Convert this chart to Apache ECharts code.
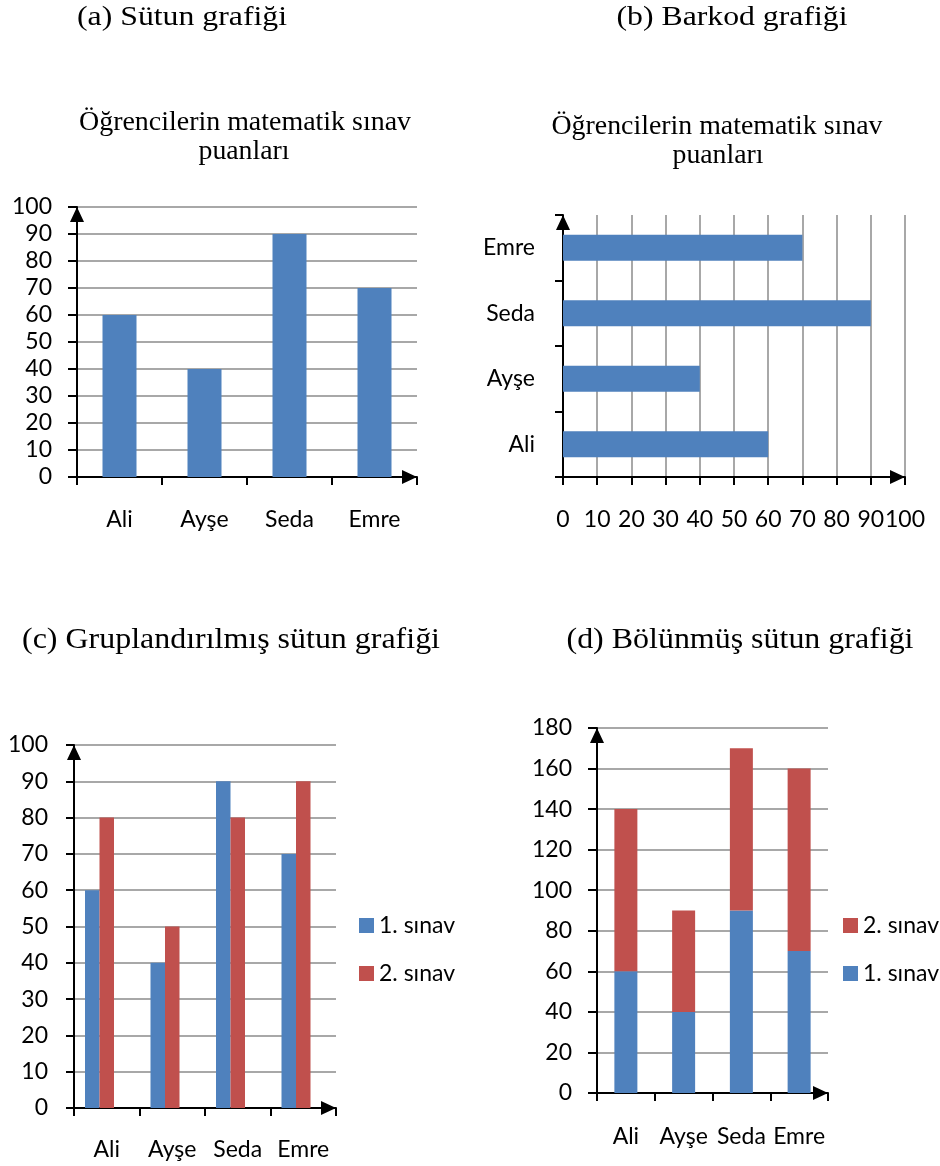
<!DOCTYPE html>
<html>
<head>
<meta charset="utf-8">
<script src="https://cdn.jsdelivr.net/npm/echarts@6/dist/echarts.min.js"></script>
<style>
  html, body { margin: 0; padding: 0; background: #fff; }
  #chart { width: 940px; height: 1166px; }
</style>
</head>
<body>
<div id="chart"></div>
<script>
// Students and their two maths exam scores
const students = ['Ali', 'Ayşe', 'Seda', 'Emre'];
const exam1 = [60, 40, 90, 70];
const exam2 = [80, 50, 80, 90];
const examNames = ['1. sınav', '2. sınav'];

// Headings and the shared chart title
const headings = [
  '(a) Sütun grafiği',
  '(b) Barkod grafiği',
  '(c) Gruplandırılmış sütun grafiği',
  '(d) Bölünmüş sütun grafiği'
];
const titleLines = ['Öğrencilerin matematik sınav', 'puanları'];

const BLUE = '#4F81BD';
const RED = '#C0504D';
const GRID_GRAY = '#a8a8a8';
const LABEL_FONT = 'Lato';
const LABEL_SIZE = 23;
const SERIF = '"Liberation Serif", "Times New Roman", serif';

// Measure text so each serif heading can be stretched to its box width
const measureCtx = document.createElement('canvas').getContext('2d');
function serifText(text, size, cx, cy, boxWidth) {
  const font = size + 'px ' + SERIF;
  measureCtx.font = font;
  const w = measureCtx.measureText(text).width;
  return {
    type: 'text',
    x: cx,
    y: cy,
    scaleX: boxWidth / w,
    style: { text: text, font: font, fill: '#000', align: 'center', verticalAlign: 'middle' },
    silent: true
  };
}

const arrowLine = {
  show: true,
  onZero: true,
  symbol: ['none', 'triangle'],
  symbolSize: [14, 15],
  symbolOffset: [0, -7.5],
  lineStyle: { color: '#000', width: 2 }
};
const tick = (len) => ({ show: true, inside: false, length: len, lineStyle: { color: '#000', width: 2 } });
const gridLines = { show: true, lineStyle: { color: GRID_GRAY, width: 2 } };
const label = (margin) => ({
  margin: margin, color: '#000', fontFamily: LABEL_FONT, fontSize: LABEL_SIZE,
  interval: 0, hideOverlap: false
});

const option = {
  animation: false,
  backgroundColor: '#fff',
  graphic: [
    serifText(headings[0], 28, 182, 18, 210),
    serifText(headings[1], 28, 732, 18, 231),
    serifText(titleLines[0], 28, 245, 123, 332),
    serifText(titleLines[1], 28, 244, 152, 91),
    serifText(titleLines[0], 28, 717, 127, 331),
    serifText(titleLines[1], 28, 718, 156, 91),
    serifText(headings[2], 30, 231, 640, 418),
    serifText(headings[3], 30, 740, 640, 347)
  ],
  grid: [
    { left: 77, top: 207, width: 340, height: 270 },
    { left: 563, top: 215, width: 342, height: 262 },
    { left: 74, top: 745, width: 262, height: 363 },
    { left: 597, top: 728, width: 231, height: 365 }
  ],
  xAxis: [
    { gridIndex: 0, type: 'category', data: students, axisLine: arrowLine, axisTick: tick(8),
      axisLabel: label(31), splitLine: { show: false } },
    { gridIndex: 1, type: 'value', min: 0, max: 100, interval: 10, axisLine: arrowLine, axisTick: tick(8),
      axisLabel: label(31), splitLine: gridLines },
    { gridIndex: 2, type: 'category', data: students, axisLine: arrowLine, axisTick: tick(8),
      axisLabel: label(30), splitLine: { show: false } },
    { gridIndex: 3, type: 'category', data: students, axisLine: arrowLine, axisTick: tick(8),
      axisLabel: label(32), splitLine: { show: false } }
  ],
  yAxis: [
    { gridIndex: 0, type: 'value', min: 0, max: 100, interval: 10, axisLine: arrowLine, axisTick: tick(9),
      axisLabel: label(25), splitLine: gridLines },
    { gridIndex: 1, type: 'category', data: students, axisLine: arrowLine, axisTick: tick(8),
      axisLabel: label(28), splitLine: { show: false } },
    { gridIndex: 2, type: 'value', min: 0, max: 100, interval: 10, axisLine: arrowLine, axisTick: tick(8),
      axisLabel: label(26), splitLine: gridLines },
    { gridIndex: 3, type: 'value', min: 0, max: 180, interval: 20, axisLine: arrowLine, axisTick: tick(9),
      axisLabel: label(25), splitLine: gridLines }
  ],
  legend: [
    { orient: 'vertical', left: 354, top: 909, itemWidth: 15, itemHeight: 15, itemGap: 25, icon: 'rect',
      data: [examNames[0], examNames[1]], selectedMode: false,
      textStyle: { color: '#000', fontFamily: LABEL_FONT, fontSize: LABEL_SIZE } },
    { orient: 'vertical', left: 838, top: 909, itemWidth: 15, itemHeight: 15, itemGap: 25, icon: 'rect',
      data: [examNames[1], examNames[0]], selectedMode: false,
      textStyle: { color: '#000', fontFamily: LABEL_FONT, fontSize: LABEL_SIZE } }
  ],
  series: [
    // (a) column chart of the first exam
    { type: 'bar', xAxisIndex: 0, yAxisIndex: 0, data: exam1, barWidth: 34,
      itemStyle: { color: BLUE } },
    // (b) horizontal bar chart of the first exam
    { type: 'bar', xAxisIndex: 1, yAxisIndex: 1, data: exam1, barWidth: 26,
      itemStyle: { color: BLUE } },
    // (c) grouped columns; the trailing empty slot keeps each pair left of centre
    { type: 'bar', name: examNames[0], xAxisIndex: 2, yAxisIndex: 2, data: exam1, barWidth: 14.5, barGap: '0%',
      itemStyle: { color: BLUE } },
    { type: 'bar', name: examNames[1], xAxisIndex: 2, yAxisIndex: 2, data: exam2, barWidth: 14.5, barGap: '0%',
      itemStyle: { color: RED } },
    { type: 'bar', name: 'slot', xAxisIndex: 2, yAxisIndex: 2, data: [], barWidth: 14.5, barGap: '0%' },
    // (d) stacked columns
    { type: 'bar', name: examNames[0], xAxisIndex: 3, yAxisIndex: 3, data: exam1, barWidth: 23, stack: 'total',
      itemStyle: { color: BLUE } },
    { type: 'bar', name: examNames[1], xAxisIndex: 3, yAxisIndex: 3, data: exam2, barWidth: 23, stack: 'total',
      itemStyle: { color: RED } }
  ]
};

const chart = echarts.init(document.getElementById('chart'), null, { renderer: 'canvas' });
chart.setOption(option);
</script>
</body>
</html>
